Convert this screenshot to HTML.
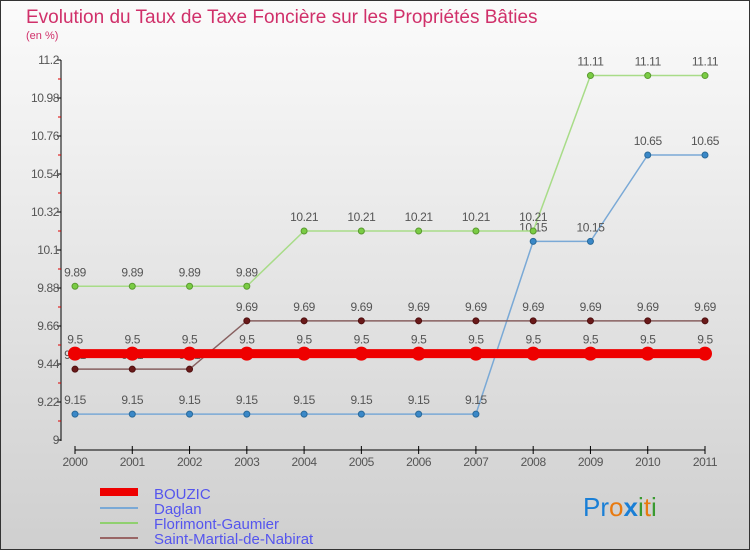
<!DOCTYPE html>
<html><head><meta charset="utf-8"><style>
body{margin:0;width:750px;height:550px;overflow:hidden;font-family:"Liberation Sans",sans-serif}
#c{position:absolute;left:0;top:0;width:748px;height:548px;border:1px solid #333;background:linear-gradient(#fbfbfb,#cfcfcf)}
</style></head><body>
<div id="c">
<svg width="750" height="550" id="svg" style="position:absolute;left:-1px;top:-1px">
<text x="26" y="23" font-size="19" fill="#d0306a">Evolution du Taux de Taxe Foncière sur les Propriétés Bâties</text>
<text x="26" y="39" font-size="11" fill="#d0306a">(en %)</text>
<g id="axes"></g><g id="series"></g>
<g>
<rect x="100" y="488" width="38" height="8" fill="#e00"/>
<text x="154" y="499" font-size="15" fill="#5555ee">BOUZIC</text>
<line x1="100" y1="508" x2="138" y2="508" stroke="#7aa9d6" stroke-width="2"/>
<text x="154" y="514" font-size="15" fill="#5555ee">Daglan</text>
<line x1="100" y1="523" x2="138" y2="523" stroke="#90d070" stroke-width="2"/>
<text x="154" y="529" font-size="15" fill="#5555ee">Florimont-Gaumier</text>
<line x1="100" y1="538" x2="138" y2="538" stroke="#996666" stroke-width="2"/>
<text x="154" y="544" font-size="15" fill="#5555ee">Saint-Martial-de-Nabirat</text>
</g>
<text x="583" y="516" font-size="26"><tspan fill="#1a7fd6">Pr</tspan><tspan fill="#e87a10">o</tspan><tspan fill="#1a7fd6" font-weight="bold">x</tspan><tspan fill="#3a9a30">i</tspan><tspan fill="#e87a10">t</tspan><tspan fill="#3a9a30">i</tspan></text>
</svg></div>
<script>
const years=[2000,2001,2002,2003,2004,2005,2006,2007,2008,2009,2010,2011];
const yTicks=[9,9.22,9.44,9.66,9.88,10.1,10.32,10.54,10.76,10.98,11.2];
const yTickLabels=["9","9.22","9.44","9.66","9.88","10.1","10.32","10.54","10.76","10.98","11.2"];
const bouzic=[9.5,9.5,9.5,9.5,9.5,9.5,9.5,9.5,9.5,9.5,9.5,9.5];
const daglan=[9.15,9.15,9.15,9.15,9.15,9.15,9.15,9.15,10.15,10.15,10.65,10.65];
const florimont=[9.89,9.89,9.89,9.89,10.21,10.21,10.21,10.21,10.21,11.11,11.11,11.11];
const saintMartial=[9.41,9.41,9.41,9.69,9.69,9.69,9.69,9.69,9.69,9.69,9.69,9.69];
const NS="http://www.w3.org/2000/svg";
const X=i=>75+i*(705-75)/(years.length-1);
const Y=v=>440-(v-9)/(2.2)*380;
function mk(t,a,p){const e=document.createElementNS(NS,t);for(const k in a)e.setAttribute(k,a[k]);p.appendChild(e);return e;}
const ax=document.getElementById('axes');
let l=mk('line',{x1:61,y1:60,x2:61,y2:441,stroke:'#000'},ax);


yTicks.forEach((v,i)=>{
 let t=mk('line',{x1:57,y1:Y(v),x2:61,y2:Y(v),stroke:'#000'},ax);
 
 
 if(i<yTicks.length-1){let m=mk('line',{x1:58,y1:Y(v+0.11),x2:61,y2:Y(v+0.11),stroke:'#d00'},ax);
 
 }
 let tx=mk('text',{x:59,y:Y(v)+4,'font-size':12,fill:'#555','text-anchor':'end','letter-spacing':'-0.4'},ax);
 tx.textContent=yTickLabels[i];
 
 
});
l=mk('line',{x1:75,y1:450,x2:705,y2:450,stroke:'#000'},ax);


years.forEach((y,i)=>{
 let t=mk('line',{x1:X(i),y1:446,x2:X(i),y2:454,stroke:'#000'},ax);
 
 
 let tx=mk('text',{x:X(i),y:466,'font-size':12,fill:'#555','text-anchor':'middle','letter-spacing':'-0.4'},ax);
 tx.textContent=y;
 
 
});
const sg=document.getElementById('series');
function series(vals,name,line,w,dot,r,dotStroke){
 const g=mk('g',{},sg);
 
 
 const p=mk('polyline',{points:vals.map((v,i)=>X(i)+','+Y(v)).join(' '),fill:'none',stroke:line,'stroke-width':w},g);
 
 
 vals.forEach((v,i)=>{
  const c=mk('circle',{cx:X(i),cy:Y(v),r:r,fill:dot,stroke:dotStroke,'stroke-width':1},g);
  
  
  const t=mk('text',{x:X(i),y:Y(v)-10,'font-size':12,fill:'#555','text-anchor':'middle','letter-spacing':'-0.4'},g);
  t.textContent=String(v);
  
  
 });
}
series(daglan,'daglan','#7aa9d6',1.5,'#3a88c8',3,'#2a6a9a');
series(florimont,'florimont-gaumier','#a8dc88',1.5,'#7acc44',3,'#5a9a30');
series(saintMartial,'saint-martial-de-nabirat','#886060',1.5,'#6a1a1a',3,'#501010');
series(bouzic,'bouzic','#ee0000',9,'#ee0000',6.5,'#ee0000');
</script>
</body></html>
